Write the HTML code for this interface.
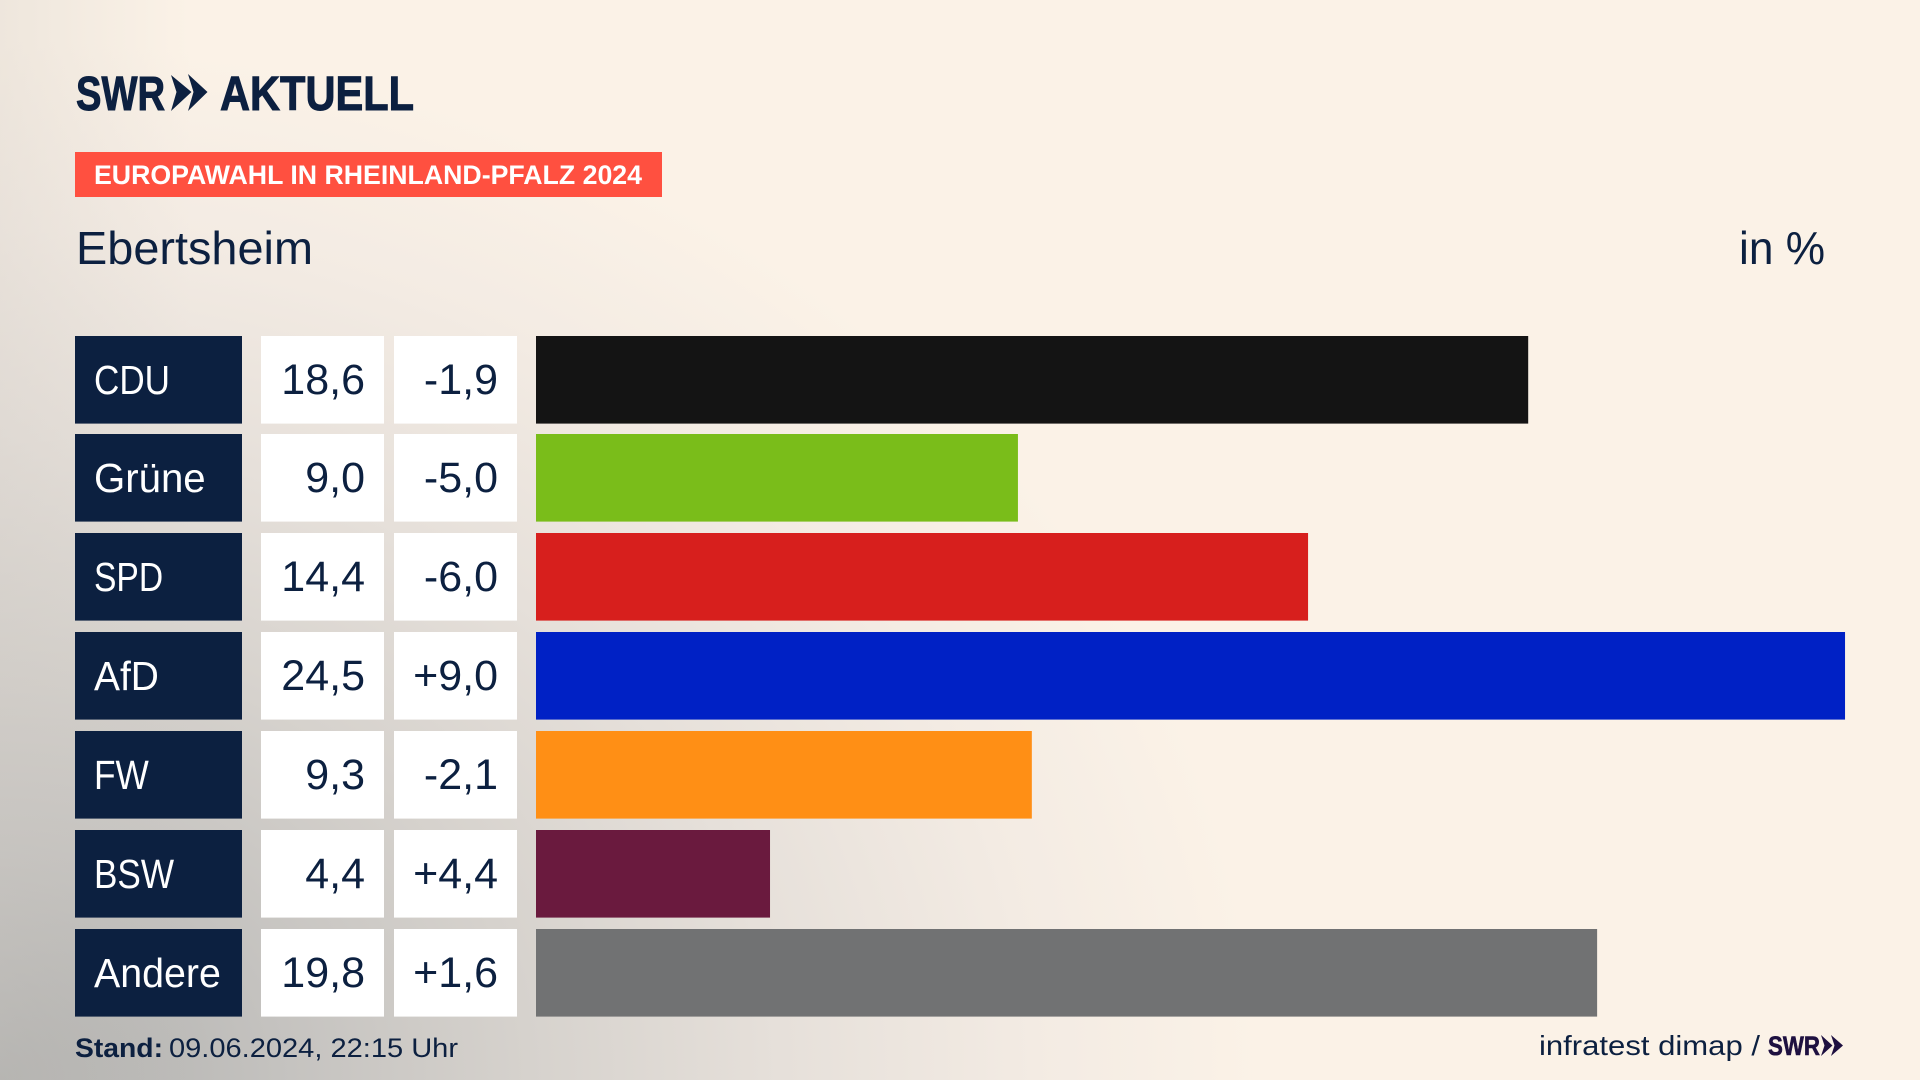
<!DOCTYPE html>
<html lang="de">
<head>
<meta charset="utf-8">
<title>Europawahl in Rheinland-Pfalz 2024 – Ebertsheim</title>
<style>
  html, body { margin: 0; padding: 0; width: 1920px; height: 1080px; overflow: hidden; background: #fbf2e7; }
  #page {
    position: relative; width: 1920px; height: 1080px;
    background:
      linear-gradient(90deg, rgba(205,200,194,.28) 0px, rgba(205,200,194,0) 190px),
      radial-gradient(ellipse 1260px 1040px at 0px 1080px,
      #aeaeac 0%, #c4c2bf 22%, #d6d2cd 42%, #e6e0da 62%, #f3ebe3 82%, #fbf2e7 100%), #fbf2e7;
  }
  svg { position: absolute; left: 0; top: 0; }
  text { font-family: "Liberation Sans", sans-serif; fill: #0c2040; }
</style>
</head>
<body>
<div id="page">
<svg id="chart" width="1920" height="1080" viewBox="0 0 1920 1080" xmlns="http://www.w3.org/2000/svg">
  <g>
    <text x="76" y="110" font-size="48" font-weight="700" stroke="#0c2040" stroke-width="1" textLength="89" lengthAdjust="spacingAndGlyphs">SWR</text>
    <polygon points="171,75 191.5,92 171,111 176.5,92" fill="#0c2040"/>
    <polygon points="188,74 207.5,92 188,111 193.5,92" fill="#0c2040"/>
    <text x="220" y="110" font-size="48" font-weight="700" stroke="#0c2040" stroke-width="1" textLength="194" lengthAdjust="spacingAndGlyphs">AKTUELL</text>
  </g>
  <rect x="75" y="152" width="587" height="45" fill="#ff5040"/>
  <text x="94" y="184" font-size="26.5" font-weight="700" style="fill:#fff" textLength="548" lengthAdjust="spacingAndGlyphs">EUROPAWAHL IN RHEINLAND-PFALZ 2024</text>
  <text x="76" y="264" font-size="46" textLength="237" lengthAdjust="spacingAndGlyphs">Ebertsheim</text>
  <text x="1739" y="264" font-size="46" textLength="86" lengthAdjust="spacingAndGlyphs">in %</text>
  <g id="rows"></g>
  <text x="75" y="1057" font-size="27" font-weight="700" textLength="88" lengthAdjust="spacingAndGlyphs">Stand:</text>
  <text x="169" y="1057" font-size="27" textLength="289" lengthAdjust="spacingAndGlyphs">09.06.2024, 22:15 Uhr</text>
  <text x="1539" y="1055" font-size="28" textLength="221" lengthAdjust="spacingAndGlyphs">infratest dimap /</text>
  <g>
    <text x="1768" y="1055" font-size="27" font-weight="700" stroke="#1e1040" stroke-width="0.6" style="fill:#1e1040" textLength="52" lengthAdjust="spacingAndGlyphs">SWR</text>
    <polygon points="1821,1035 1832.5,1045.5 1821,1056 1824.5,1045.5" fill="#1e1040"/>
    <polygon points="1831,1035 1843,1045.5 1831,1056 1834.5,1045.5" fill="#1e1040"/>
  </g>
</svg>
</div>
<script>
const parties = ["CDU", "Grüne", "SPD", "AfD", "FW", "BSW", "Andere"];
const shareValues = [18.57, 9.02, 14.45, 24.5, 9.28, 4.38, 19.86];
const printedShares = ["18,6", "9,0", "14,4", "24,5", "9,3", "4,4", "19,8"];
const printedChanges = ["-1,9", "-5,0", "-6,0", "+9,0", "-2,1", "+4,4", "+1,6"];

const partyColors = ["#141414", "#7abd1a", "#d71f1d", "#0021c5", "#ff8f15", "#6a1a3e", "#717273"];
const labelCondense = [0.856, 0.98, 0.82, 0.95, 0.86, 0.857, 0.96];

const SVG_NS = "http://www.w3.org/2000/svg";
const rowsGroup = document.getElementById("rows");

const barOrigin = 536;
const pxPerPercent = 53.43;
function xScale(v) { return barOrigin + v * pxPerPercent; }

const rowStart = 335.6;
const rowStep = 98.83;
const rowHeight = 87.6;
function yScale(i) { return Math.round(rowStart + i * rowStep); }

function shape(tag, attrs) {
  const node = document.createElementNS(SVG_NS, tag);
  for (const k in attrs) node.setAttribute(k, attrs[k]);
  return node;
}

parties.forEach(function (party, i) {
  const slug = party.toLowerCase().replace("ü", "ue");
  const top = yScale(i);
  const base = top + rowHeight / 2 + 14;

  const labelBox = shape("rect", { x: 75, y: top, width: 167, height: rowHeight, fill: "#0c2040" });
  
  
  rowsGroup.appendChild(labelBox);

  const label = shape("text", { transform: "translate(94 " + base + ") scale(" + labelCondense[i] + " 1)", "font-size": 41, style: "fill:#fff" });
  label.textContent = party;
  
  
  rowsGroup.appendChild(label);

  const shareBox = shape("rect", { x: 261, y: top, width: 123, height: rowHeight, fill: "#fff" });
  
  
  rowsGroup.appendChild(shareBox);

  const share = shape("text", { x: 365, y: base, "text-anchor": "end", "font-size": 43 });
  share.textContent = printedShares[i];
  
  
  rowsGroup.appendChild(share);

  const changeBox = shape("rect", { x: 394, y: top, width: 123, height: rowHeight, fill: "#fff" });
  
  
  rowsGroup.appendChild(changeBox);

  const change = shape("text", { x: 498, y: base, "text-anchor": "end", "font-size": 43 });
  change.textContent = printedChanges[i];
  
  
  rowsGroup.appendChild(change);

  const bar = shape("rect", { x: xScale(0), y: top, width: xScale(shareValues[i]) - xScale(0), height: rowHeight, fill: partyColors[i] });
  
  
  rowsGroup.appendChild(bar);
});
</script>
</body>
</html>
